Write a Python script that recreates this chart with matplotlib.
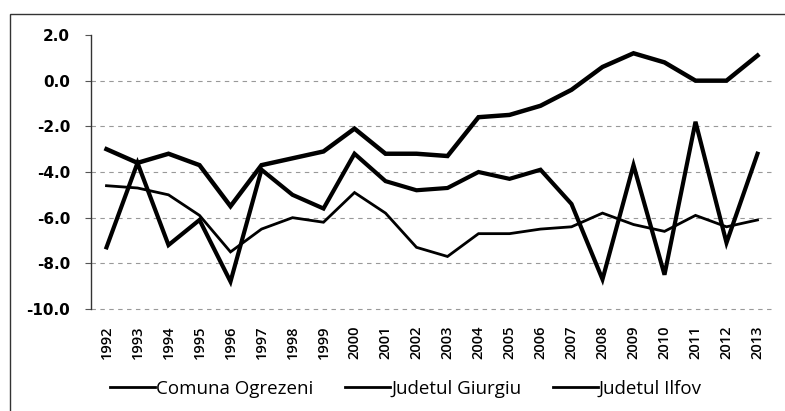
import matplotlib
matplotlib.use("Agg")
import matplotlib.pyplot as plt
from matplotlib.patches import Rectangle

years = [str(y) for y in range(1992, 2014)]
ogrezeni = [-7.3, -3.6, -7.2, -6.1, -8.8, -3.9, -5.0, -5.6, -3.2, -4.4, -4.8,
            -4.7, -4.0, -4.3, -3.9, -5.4, -8.7, -3.7, -8.5, -1.8, -7.1, -3.2]
giurgiu = [-4.6, -4.7, -5.0, -5.9, -7.5, -6.5, -6.0, -6.2, -4.9, -5.8, -7.3,
           -7.7, -6.7, -6.7, -6.5, -6.4, -5.8, -6.3, -6.6, -5.9, -6.4, -6.1]
ilfov = [-3.0, -3.6, -3.2, -3.7, -5.5, -3.7, -3.4, -3.1, -2.1, -3.2, -3.2,
         -3.3, -1.6, -1.5, -1.1, -0.4, 0.6, 1.2, 0.8, 0.0, 0.0, 1.1]
yticks = [2.0, 0.0, -2.0, -4.0, -6.0, -8.0, -10.0]

plt.rcParams['font.family'] = ['Open Sans', 'DejaVu Sans']

fig = plt.figure(figsize=(7.85, 4.11), dpi=100)
W, H = 785, 411
ax = fig.add_axes([91 / W, 1 - 309 / H, (773 - 91) / W, (309 - 35) / H])

x = list(range(len(years)))
ax.plot(x, ogrezeni, color='black', lw=3.0, solid_joinstyle='miter', label='Comuna Ogrezeni')
ax.plot(x, giurgiu, color='black', lw=2.0, solid_joinstyle='miter', label='Judetul Giurgiu')
ax.plot(x, ilfov, color='black', lw=3.2, solid_joinstyle='miter', label='Judetul Ilfov')

ax.set_xlim(-0.5, len(years) - 0.5)
ax.set_ylim(-10, 2)
ax.set_yticks(yticks)
ax.set_yticklabels([f"{v:.1f}" for v in yticks], fontsize=11, fontweight='bold',
                   family='DejaVu Sans')
ax.set_xticks(x)
ax.set_xticklabels(years, rotation=90, fontsize=10.5, fontweight='semibold')
ax.tick_params(axis='x', length=0, pad=12)
ax.tick_params(axis='y', length=4, direction='out', pad=11, color='#555555')

for v in yticks[1:]:
    ax.axhline(v, color='#999999', lw=0.8, ls=(0, (4, 4)), zorder=0, clip_on=False)

for s in ['top', 'right', 'bottom']:
    ax.spines[s].set_visible(False)
ax.spines['left'].set_color('#333333')
ax.spines['left'].set_linewidth(1.0)

leg = fig.legend(loc='center', bbox_to_anchor=(406 / W, 1 - 389 / H), ncol=3,
                 frameon=False, fontsize=13.5, handlelength=2.4, handletextpad=0.05,
                 columnspacing=1.7)
for line in leg.get_lines():
    line.set_linewidth(2.0)

fig.patches.append(Rectangle((10 / W, -0.05), 1.0, 1 - 14 / H + 0.05, transform=fig.transFigure,
                             fill=False, edgecolor='#333333', lw=1.0))

fig.savefig('out.png', dpi=100)
